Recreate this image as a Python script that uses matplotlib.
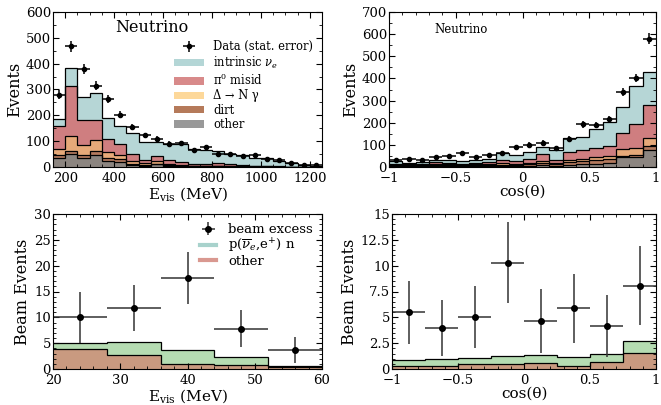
import numpy as np
import matplotlib
matplotlib.use('Agg')
import matplotlib.pyplot as plt
from matplotlib.ticker import MultipleLocator, FuncFormatter
from matplotlib.patches import Patch
from matplotlib.lines import Line2D

plt.rcParams['font.family'] = 'DejaVu Serif'
plt.rcParams['mathtext.fontset'] = 'dejavuserif'

# ---- top-left: E_vis neutrino mode (50 MeV bins, 150-1250) ----
evis_edges = np.arange(150, 1251, 50)
evis_data = [280, 468, 381, 314, 262, 203, 154, 122, 108, 90, 92, 67, 77, 49, 51, 44, 45, 32, 26, 15, 9, 6]
# cumulative tops of each stacked layer
evis_other = [35, 52, 35, 45, 22, 18, 8, 5, 10, 4, 3, 2, 2, 2, 1, 1, 1, 1, 0, 0, 0, 0]
evis_dirt_top = [45, 62, 45, 62, 35, 30, 12, 8, 12, 6, 5, 3, 3, 3, 2, 2, 1, 1, 1, 0, 0, 0]
evis_delta_top = [70, 120, 85, 103, 60, 48, 22, 15, 22, 10, 8, 5, 5, 5, 4, 3, 2, 2, 1, 1, 0, 0]
evis_pi0_top = [157, 315, 182, 182, 108, 90, 50, 27, 43, 27, 20, 10, 12, 14, 10, 8, 5, 3, 2, 1, 1, 0]
evis_nue_top = [185, 382, 270, 287, 188, 160, 130, 98, 98, 90, 88, 68, 64, 62, 52, 45, 36, 33, 22, 17, 9, 5]

# ---- top-right: cos(theta) neutrino mode (0.1 bins) ----
cos_edges = np.linspace(-1, 1, 21)
cos_data = [30, 38, 30, 45, 51, 63, 47, 53, 63, 91, 101, 110, 85, 127, 192, 188, 217, 339, 402, 580]
cos_other = [3, 3, 3, 4, 4, 3, 4, 4, 5, 4, 6, 8, 6, 10, 12, 14, 16, 44, 44, 77]
cos_dirt_top = [6, 5, 6, 8, 8, 6, 8, 9, 11, 9, 13, 16, 12, 22, 26, 30, 34, 50, 55, 95]
cos_delta_top = [9, 7, 9, 12, 12, 9, 12, 14, 17, 15, 20, 25, 18, 32, 38, 44, 50, 80, 87, 129]
cos_pi0_top = [15, 12, 15, 22, 20, 15, 18, 22, 30, 25, 38, 58, 32, 70, 78, 88, 93, 152, 193, 280]
cos_nue_top = [26, 20, 23, 33, 30, 26, 33, 38, 63, 56, 69, 92, 76, 129, 137, 172, 202, 270, 366, 428]

# ---- bottom-left: beam excess vs E_vis (8 MeV bins, 20-60) ----
bevis_edges = [20, 28, 36, 44, 52, 60]
bevis_excess = [10.0, 11.8, 17.6, 7.8, 3.7]
bevis_err = [5.0, 4.5, 5.0, 3.6, 2.5]
bevis_total = [5.0, 5.15, 3.7, 2.3, 0.5]
bevis_other = [3.9, 2.7, 1.0, 0.8, 0.35]

# ---- bottom-right: beam excess vs cos(theta) (0.25 bins) ----
bcos_edges = [-1, -0.75, -0.5, -0.25, 0, 0.25, 0.5, 0.75, 1]
bcos_excess = [5.5, 4.0, 5.05, 10.3, 4.63, 5.86, 4.15, 8.07]
bcos_err = [3.05, 2.7, 3.0, 3.9, 3.1, 3.35, 3.0, 3.8]
bcos_total = [0.9, 1.0, 1.1, 1.3, 1.35, 1.2, 1.5, 2.7]
bcos_other = [0.26, 0.32, 0.5, 0.52, 0.6, 0.26, 0.68, 1.55]

layer_labels = [r'intrinsic $\nu_e$', 'π$^0$ misid', 'Δ → N γ', 'dirt', 'other']
fill_colors = ['#b6d6d6', '#cf7e80', '#e6a979', '#b47a5e', '#8c8580']
legend_colors = ['#b4d6d6', '#d88a8a', '#fdd89a', '#b57a5a', '#999999']
green_fill = '#b5dcb2'
brown_fill = '#c99a80'


def minus(x, pos):
    return ('%g' % x).replace('-', '\u2212')


def style_axis(ax, xmaj, xmin, ymaj, ymin):
    ax.xaxis.set_major_locator(MultipleLocator(xmaj))
    ax.xaxis.set_minor_locator(MultipleLocator(xmin))
    ax.yaxis.set_major_locator(MultipleLocator(ymaj))
    ax.yaxis.set_minor_locator(MultipleLocator(ymin))
    ax.xaxis.set_major_formatter(FuncFormatter(minus))
    ax.yaxis.set_major_formatter(FuncFormatter(minus))
    ax.tick_params(which='both', direction='in', top=True, right=True, labelsize=9.5, pad=1.5)
    ax.tick_params(axis='x', which='both', pad=3.5)
    ax.tick_params(which='major', length=4)
    ax.tick_params(which='minor', length=2)


def stacked(ax, edges, tops):
    for top, c in zip(tops, fill_colors):
        ax.stairs(top, edges, baseline=0, fill=True, color=c)
    for top in tops:
        ax.stairs(top, edges, baseline=None, color='k', lw=0.9)


W, H = 661, 405
fig = plt.figure(figsize=(W / 100, H / 100), dpi=100)
ax1 = fig.add_axes([53 / W, (H - 167) / H, 269 / W, 155 / H])
ax2 = fig.add_axes([389 / W, (H - 167) / H, 267 / W, 155 / H])
ax3 = fig.add_axes([53 / W, (H - 369) / H, 269 / W, 155 / H])
ax4 = fig.add_axes([392 / W, (H - 369) / H, 264 / W, 155 / H])

# top-left
stacked(ax1, evis_edges, [evis_nue_top, evis_pi0_top, evis_delta_top, evis_dirt_top, evis_other])
evis_centers = 0.5 * (evis_edges[:-1] + evis_edges[1:])
ax1.errorbar(evis_centers, evis_data, xerr=25, yerr=np.sqrt(evis_data), fmt='o', color='k',
             ms=3, lw=1.1, capsize=0)
ax1.set_xlim(150, 1250)
ax1.set_ylim(0, 600)
style_axis(ax1, 200, 50, 100, 50)
ax1.set_xlabel(r'E$_{\rm vis}$ (MeV)', fontsize=11, labelpad=0)
ax1.set_ylabel('Events', fontsize=11.5, labelpad=2)
ax1.text(0.23, 0.9, 'Neutrino', transform=ax1.transAxes, fontsize=11.5, va='center')
handles = [Patch(facecolor=c, edgecolor='none') for c in legend_colors]
leg_handles = [ax1.errorbar([], [], xerr=[], yerr=[], fmt='o', color='k', ms=3, lw=1.1)]
ax1.legend(leg_handles + handles, ['Data (stat. error)'] + layer_labels, loc='upper right',
           bbox_to_anchor=(0.997, 0.87), fontsize=8.3, frameon=False, handlelength=2.6,
           handleheight=0.6, labelspacing=0.12, borderpad=0.2, handletextpad=0.8)

# top-right
stacked(ax2, cos_edges, [cos_nue_top, cos_pi0_top, cos_delta_top, cos_dirt_top, cos_other])
cos_centers = 0.5 * (cos_edges[:-1] + cos_edges[1:])
ax2.errorbar(cos_centers, cos_data, xerr=0.05, yerr=np.sqrt(cos_data), fmt='o', color='k',
             ms=3, lw=1.1, capsize=0)
ax2.set_xlim(-1, 1)
ax2.set_ylim(0, 700)
style_axis(ax2, 0.5, 0.1, 100, 50)
ax2.set_xlabel('cos(θ)', fontsize=11, labelpad=0)
ax2.set_ylabel('Events', fontsize=11.5, labelpad=2)
ax2.text(0.17, 0.89, 'Neutrino', transform=ax2.transAxes, fontsize=8.5, va='center')

# bottom-left
ax3.stairs(bevis_total, bevis_edges, baseline=0, fill=True, color=green_fill)
ax3.stairs(bevis_other, bevis_edges, baseline=0, fill=True, color=brown_fill)
ax3.stairs(bevis_total, bevis_edges, baseline=None, color='k', lw=0.9)
ax3.stairs(bevis_other, bevis_edges, baseline=None, color='k', lw=0.9)
bevis_centers = [0.5 * (a + b) for a, b in zip(bevis_edges[:-1], bevis_edges[1:])]
ax3.errorbar(bevis_centers, bevis_excess, xerr=4, yerr=bevis_err, fmt='o', color='k',
             ecolor='#333333', ms=4, lw=1.1, capsize=0)
ax3.set_xlim(20, 60)
ax3.set_ylim(0, 30)
style_axis(ax3, 10, 2, 5, 1)
ax3.set_xlabel(r'E$_{\rm vis}$ (MeV)', fontsize=11, labelpad=0)
ax3.set_ylabel('Beam Events', fontsize=11.5, labelpad=2)
h3 = [ax3.errorbar([], [], xerr=[], yerr=[], fmt='o', color='k', ecolor='#333333', ms=4, lw=1.1),
      Line2D([], [], color='#a8d2cc', lw=3), Line2D([], [], color='#d99890', lw=3)]
ax3.legend(h3, ['beam excess', r'p($\overline{\nu}_e$,e$^{+}$) n', 'other'], loc='upper right',
           fontsize=9.5, frameon=False, handlelength=1.2, labelspacing=0.02, borderpad=0.2,
           handletextpad=0.9)

# bottom-right
ax4.stairs(bcos_total, bcos_edges, baseline=0, fill=True, color=green_fill)
ax4.stairs(bcos_other, bcos_edges, baseline=0, fill=True, color=brown_fill)
ax4.stairs(bcos_total, bcos_edges, baseline=None, color='k', lw=0.9)
ax4.stairs(bcos_other, bcos_edges, baseline=None, color='k', lw=0.9)
bcos_centers = [0.5 * (a + b) for a, b in zip(bcos_edges[:-1], bcos_edges[1:])]
ax4.errorbar(bcos_centers, bcos_excess, xerr=0.125, yerr=bcos_err, fmt='o', color='k',
             ecolor='#333333', ms=4, lw=1.1, capsize=0)
ax4.set_xlim(-1, 1)
ax4.set_ylim(0, 15)
style_axis(ax4, 0.5, 0.1, 2.5, 0.5)
ax4.set_xlabel('cos(θ)', fontsize=11, labelpad=0)
ax4.set_ylabel('Beam Events', fontsize=11.5, labelpad=2)

fig.savefig('out.png', dpi=100)
